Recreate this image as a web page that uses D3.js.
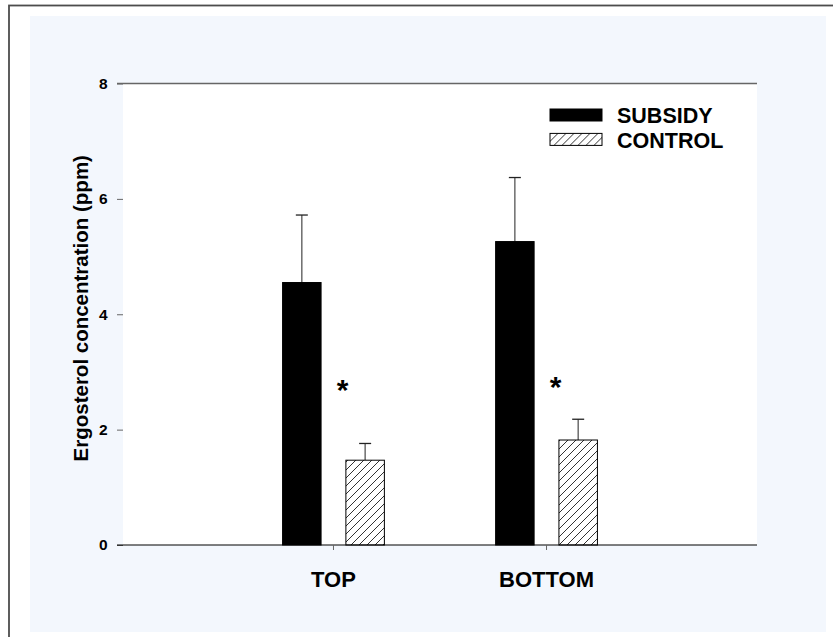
<!DOCTYPE html>
<html>
<head>
<meta charset="utf-8">
<script src="https://cdn.jsdelivr.net/npm/d3@7"></script>
<style>
  html, body { margin: 0; padding: 0; background: #ffffff; }
  svg { display: block; font-family: "Liberation Sans", Arial, sans-serif; }
</style>
</head>
<body>
<svg id="chart" width="833" height="637"></svg>
<script>
// ---- data ----
const categories = ["TOP", "BOTTOM"];
const series = ["SUBSIDY", "CONTROL"];
const subsidyValues = [4.55, 5.26];
const subsidyErrors = [1.17, 1.11];
const controlValues = [1.47, 1.82];
const controlErrors = [0.29, 0.36];
const starValues = [2.82, 2.87];
const yTicks = [0, 2, 4, 6, 8];
const yTitle = "Ergosterol concentration (ppm)";

// ---- layout ----
const svg = d3.select("#chart");
const plot = { left: 123, right: 757, top: 83.5, bottom: 545 };

// frame + background
svg.append("rect").attr("x", 9).attr("y", 5.5).attr("width", 900).attr("height", 700)
  .attr("fill", "#ffffff").attr("stroke", "#4d4d4d").attr("stroke-width", 1.8);
svg.append("rect").attr("x", 30).attr("y", 16).attr("width", 796).attr("height", 616)
  .attr("fill", "#f3f7fd");
svg.append("rect").attr("x", plot.left).attr("y", plot.top)
  .attr("width", plot.right - plot.left).attr("height", plot.bottom - plot.top)
  .attr("fill", "#ffffff");

// hatch pattern
const defs = svg.append("defs");
const pat = defs.append("pattern").attr("id", "hatch").attr("patternUnits", "userSpaceOnUse")
  .attr("width", 8).attr("height", 8);
pat.append("rect").attr("width", 8).attr("height", 8).attr("fill", "#ffffff");
pat.append("path").attr("d", "M-2,2 L2,-2 M0,8 L8,0 M6,10 L10,6")
  .attr("stroke", "#333").attr("stroke-width", 1);

// scales
const x = d3.scaleBand().domain(categories).range([plot.left, plot.right])
  .paddingInner(0).paddingOuter(0.488);
const xs = d3.scaleBand().domain(series).range([-50.9, 50.9]).paddingInner(0.392).paddingOuter(0);
const y = d3.scaleLinear().domain([0, 8]).range([plot.bottom, plot.top]);
const cx = c => x(c) + x.bandwidth() / 2;

// top line at 8
svg.append("line").attr("x1", plot.left - 6).attr("x2", plot.right)
  .attr("y1", y(8)).attr("y2", y(8)).attr("stroke", "#666").attr("stroke-width", 1.6);

// y axis
const yAxis = svg.append("g").attr("transform", `translate(${plot.left},0)`)
  .call(d3.axisLeft(y).tickValues(yTicks).tickSize(6).tickPadding(9.5).tickFormat(d3.format("d")));
yAxis.select(".domain").remove();
yAxis.selectAll(".tick line").attr("stroke", "#666");
yAxis.selectAll(".tick text").attr("font-size", 15.5).attr("font-weight", "bold")
  .attr("fill", "#000").attr("font-family", "Liberation Sans, Arial, sans-serif");

// y title
svg.append("text")
  .attr("transform", `translate(87.5,${(plot.top + plot.bottom) / 2 - 6}) rotate(-90)`)
  .attr("text-anchor", "middle").attr("font-size", 20.5).attr("font-weight", "bold")
  .attr("fill", "#000").text(yTitle);

// bars data
const rows = [];
categories.forEach((c, i) => {
  rows.push({ cat: c, s: "SUBSIDY", v: subsidyValues[i], e: subsidyErrors[i] });
  rows.push({ cat: c, s: "CONTROL", v: controlValues[i], e: controlErrors[i] });
});

// error bars (up only)
const eb = svg.append("g");
rows.forEach(d => {
  const xc = cx(d.cat) + xs(d.s) + xs.bandwidth() / 2;
  eb.append("line").attr("x1", xc).attr("x2", xc).attr("y1", y(d.v)).attr("y2", y(d.v + d.e))
    .attr("stroke", "#555").attr("stroke-width", 1.3);
  eb.append("line").attr("x1", xc - 6).attr("x2", xc + 6).attr("y1", y(d.v + d.e)).attr("y2", y(d.v + d.e))
    .attr("stroke", "#222").attr("stroke-width", 1.3);
});

// bars
svg.append("g").selectAll("rect").data(rows).join("rect")
  .attr("x", d => cx(d.cat) + xs(d.s))
  .attr("y", d => y(d.v))
  .attr("width", xs.bandwidth())
  .attr("height", d => y(0) - y(d.v))
  .attr("fill", d => d.s === "SUBSIDY" ? "#000" : "url(#hatch)")
  .attr("stroke", "#000").attr("stroke-width", 1);

// x axis
svg.append("line").attr("x1", plot.left - 6).attr("x2", plot.right)
  .attr("y1", y(0)).attr("y2", y(0)).attr("stroke", "#000").attr("stroke-width", 1.2);
const xAxis = svg.append("g").attr("transform", `translate(0,${y(0)})`)
  .call(d3.axisBottom(x).tickSize(5));
xAxis.select(".domain").remove();
xAxis.selectAll(".tick line").attr("stroke", "#666");
xAxis.selectAll(".tick text").attr("y", 41.5).attr("dy", 0)
  .attr("font-size", 22).attr("font-weight", "bold").attr("fill", "#000")
  .attr("font-family", "Liberation Sans, Arial, sans-serif");

// significance asterisks
svg.append("g").selectAll("text").data(categories).join("text")
  .attr("x", c => cx(c) + 9)
  .attr("y", (c, i) => y(starValues[i]) + 17.5)
  .attr("text-anchor", "middle").attr("font-size", 30).attr("font-weight", "bold")
  .attr("fill", "#000").text("*");

// legend
const legend = svg.append("g").attr("transform", "translate(550,109)");
series.forEach((s, i) => {
  const g = legend.append("g").attr("transform", `translate(0,${i * 24.4})`);
  g.append("rect").attr("width", 52).attr("height", 12)
    .attr("fill", s === "SUBSIDY" ? "#000" : "url(#hatch)")
    .attr("stroke", "#000").attr("stroke-width", 1);
  g.append("text").attr("x", 67).attr("y", 14.3).attr("font-size", 21.5)
    .attr("font-weight", "bold").attr("fill", "#000").text(s);
});
</script>
</body>
</html>
